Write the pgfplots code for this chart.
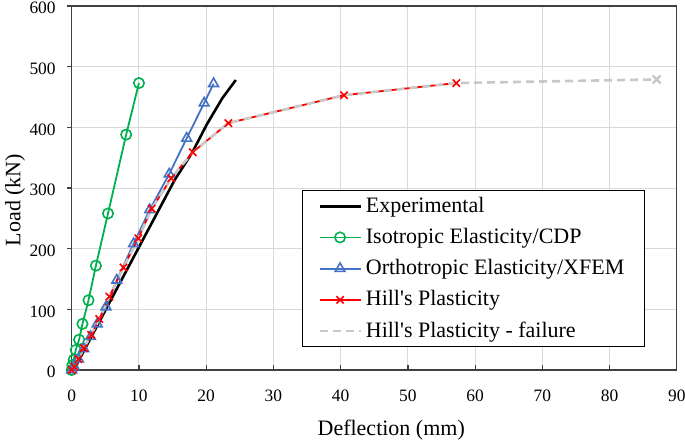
\documentclass[border=0pt]{standalone}
\usepackage{pgfplots}
\pgfplotsset{compat=1.18}
\usepackage{fontspec}
\setmainfont{Liberation Serif}[Ligatures=TeXOff]
\definecolor{exgreen}{HTML}{00B050}
\definecolor{exblue}{HTML}{4472C4}
\definecolor{exred}{HTML}{FF0000}
\definecolor{exgray}{HTML}{C8C8C8}
\definecolor{gridgray}{HTML}{D9D9D9}
\begin{document}
\begin{tikzpicture}
\begin{axis}[
  at={(0,0)}, anchor=south west,
  scale only axis, width=302.6pt, height=182pt,
  xmin=0, xmax=90, ymin=0, ymax=600,
  xtick={0,10,...,90}, ytick={0,100,...,600},
  grid=major, major grid style={gridgray, line width=0.5pt},
  axis line style={black!75, line width=0.6pt},
  tick pos=left, tick align=inside, major tick length=2.5pt,
  tick style={black!75, line width=0.6pt},
  ytick style={xshift=-2.5pt},
  /pgf/number format/assume math mode=true,
  ticklabel style={font=\fontsize{8.7}{10}\selectfont},
  xticklabel style={yshift=-6.5pt},
  yticklabel style={xshift=-4.5pt, yshift=-1pt},
  xlabel={Deflection (mm)}, ylabel={Load (kN)},
  label style={font=\fontsize{11}{13}\selectfont},
  xlabel style={at={(axis description cs:0.528,-0.165)}, anchor=center},
  ylabel style={at={(axis description cs:-0.0937,0.467)}, anchor=center},
  legend cell align=left,
  legend style={at={(axis description cs:0.380,0.4945)}, anchor=north west,
    draw=black, line width=0.6pt, fill=white,
    font=\fontsize{11}{13}\selectfont,
    inner xsep=8pt, inner ysep=0pt, row sep=0pt,
    nodes={inner ysep=0pt, text height=10.8pt, text depth=4.8pt}},
  legend image code/.code={\draw[mark repeat=2,mark phase=2,#1] plot coordinates {(0pt,0pt)(10.25pt,0pt)(20.5pt,0pt)};},
]
\addplot[black, line width=1.3pt] coordinates {
(0.3,0)(5.8,115)(10.6,215)(15.3,313)(18,360)(20.1,405)(22.4,448)(24.4,478)};
\addlegendentry{Experimental}
\addplot[exgreen, line width=0.9pt, mark=o, mark size=2.6pt, mark options={line width=0.8pt}] coordinates {
(0,0)(0.1,8)(0.3,17)(0.6,33)(1.1,50)(1.6,76)(2.5,115)(3.6,172)(5.4,258)(8.1,388)(10,473)};
\addlegendentry{Isotropic Elasticity/CDP}
\addplot[exblue, line width=0.9pt, mark=triangle, mark size=2.8pt, mark options={line width=0.8pt}] coordinates {
(0,0)(0.4,5)(1,18)(1.8,35)(2.8,55)(3.8,76)(5.1,104)(6.7,148)(9.2,208)(11.6,264)(14.5,323)(17.1,382)(19.7,440)(21.1,472)};
\addlegendentry{Orthotropic Elasticity/XFEM}
\addplot[exred, line width=0.9pt, mark=x, mark size=2.6pt, mark options={line width=0.8pt}] coordinates {
(0,0)(0.4,5)(1,18)(1.8,36)(2.9,58)(4.1,84)(5.6,121)(7.7,169)(9.9,217)(11.9,266)(14.8,316)(18,359)(23.3,407)(40.5,453)(57.2,473)};
\addlegendentry{Hill's Plasticity}
\addplot[exgray, line width=1.3pt, dash pattern=on 4pt off 2.5pt, mark=x, mark size=2.8pt, mark indices={16}, mark options={solid, line width=1.2pt}] coordinates {
(0,0)(0.4,5)(1,18)(1.8,36)(2.9,58)(4.1,84)(5.6,121)(7.7,169)(9.9,217)(11.9,266)(14.8,316)(18,359)(23.3,407)(40.5,453)(57.2,473)(87,479)};
\addlegendentry{Hill's Plasticity - failure}
\end{axis}
\pgfresetboundingbox
\path[use as bounding box] (-35.85pt,-35.5pt) rectangle (306.65pt,185pt);
\end{tikzpicture}
\end{document}
